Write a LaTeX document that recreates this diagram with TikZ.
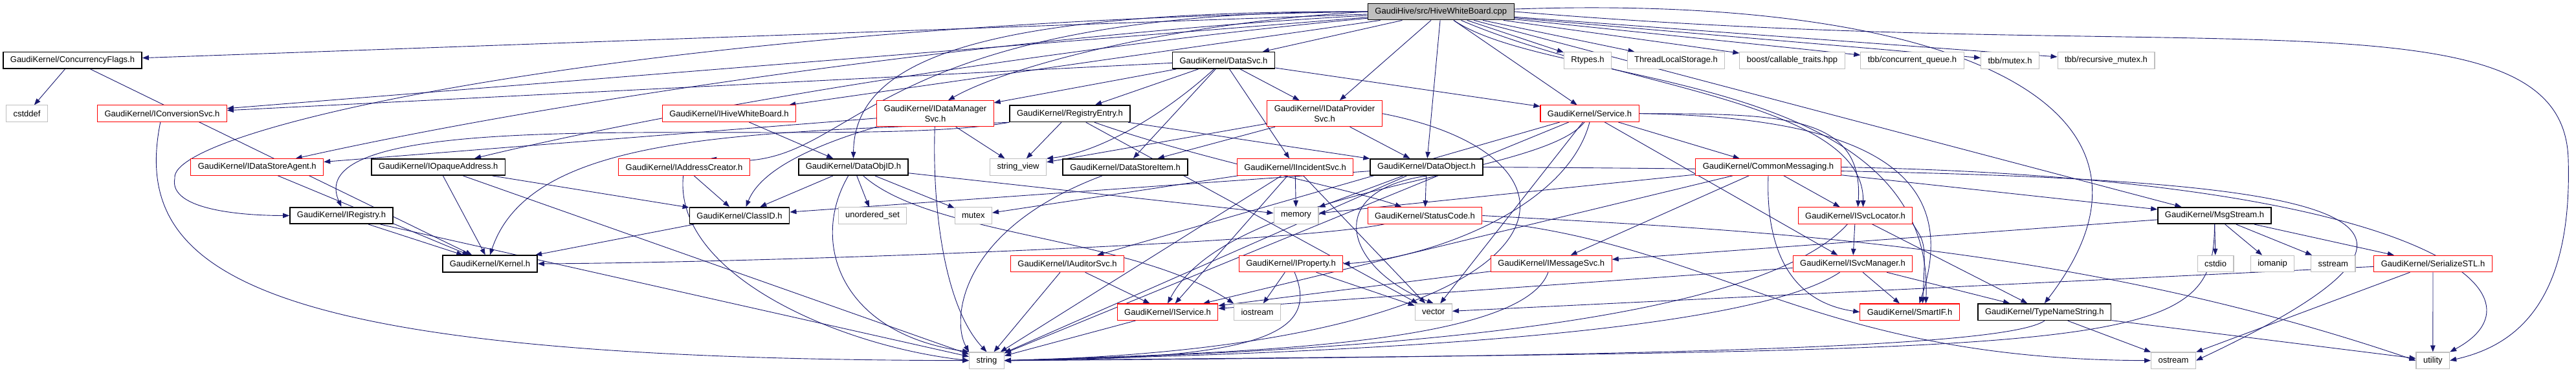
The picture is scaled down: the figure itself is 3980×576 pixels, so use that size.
\documentclass[tikz,border=0pt]{standalone}
\usepackage{fontspec}
\setmainfont{Liberation Sans}
\usetikzlibrary{arrows.meta,backgrounds}
\definecolor{edgeblue}{HTML}{191970}
\definecolor{boxgray}{HTML}{BFBFBF}
\begin{document}
\begin{tikzpicture}[x=1pt, y=1pt,
    every node/.style={rectangle, draw, fill=white, line width=1.1pt, inner xsep=11pt, inner ysep=0pt,
      minimum height=25.5pt, align=center, font=\fontsize{13}{15.5}\selectfont},
    hdr/.style={draw=black, line width=1.6pt},
    trunc/.style={draw=red},
    sys/.style={draw=boxgray},
    rootbox/.style={draw=black, fill=boxgray, line width=1.4pt},
    twoline/.style={minimum height=40pt},
    dep/.style={draw=edgeblue, line width=0.9pt, -{Triangle[length=10pt,width=7.5pt]}}
    ]
    \useasboundingbox (0,0) rectangle (3980,576);
    % top row
    \node[rootbox] (root) at (2226.3,558) {GaudiHive/src/HiveWhiteBoard.cpp};
    \node[hdr] (concFlags) at (112,482.6) {GaudiKernel/ConcurrencyFlags.h};
    \node[hdr] (dataSvc) at (1890.5,482.6) {GaudiKernel/DataSvc.h};
    \node[sys] (rtypes) at (2453,482.6) {Rtypes.h};
    \node[sys] (tls) at (2589.5,482.6) {ThreadLocalStorage.h};
    \node[sys] (callable) at (2769,482.6) {boost/callable\_traits.hpp};
    \node[sys] (tbbQueue) at (2954.5,482.6) {tbb/concurrent\_queue.h};
    \node[sys] (tbbMutex) at (3105.5,482.6) {tbb/mutex.h};
    \node[sys] (tbbRecMutex) at (3254,482.6) {tbb/recursive\_mutex.h};
    % second row
    \node[sys] (cstddef) at (41.5,400.3) {cstddef};
    \node[trunc] (iConvSvc) at (250.5,400.3) {GaudiKernel/IConversionSvc.h};
    \node[trunc] (iHiveWB) at (1126.5,400.3) {GaudiKernel/IHiveWhiteBoard.h};
    \node[trunc, twoline] (iDataMgrSvc) at (1445,400.3) {GaudiKernel/IDataManager\\Svc.h};
    \node[hdr] (regEntry) at (1653,400.3) {GaudiKernel/RegistryEntry.h};
    \node[trunc, twoline] (iDataProvSvc) at (2046.5,400.3) {GaudiKernel/IDataProvider\\Svc.h};
    \node[trunc] (service) at (2456,400.3) {GaudiKernel/Service.h};
    % third row
    \node[trunc] (iDataStoreAgent) at (397.3,317.5) {GaudiKernel/IDataStoreAgent.h};
    \node[hdr] (iOpaqueAddr) at (677.3,317.5) {GaudiKernel/IOpaqueAddress.h};
    \node[trunc] (iAddrCreator) at (1057,317.5) {GaudiKernel/IAddressCreator.h};
    \node[hdr] (dataObjID) at (1318.5,317.5) {GaudiKernel/DataObjID.h};
    \node[sys] (stringView) at (1573,317.5) {string\_view};
    \node[hdr] (dataStoreItem) at (1738.5,317.5) {GaudiKernel/DataStoreItem.h};
    \node[trunc] (iIncidentSvc) at (2001,317.5) {GaudiKernel/IIncidentSvc.h};
    \node[hdr] (dataObject) at (2204,317.5) {GaudiKernel/DataObject.h};
    \node[trunc] (commonMsg) at (2732,317.5) {GaudiKernel/CommonMessaging.h};
    % fourth row
    \node[hdr] (iRegistry) at (527.5,242.5) {GaudiKernel/IRegistry.h};
    \node[hdr] (classID) at (1142.5,242.5) {GaudiKernel/ClassID.h};
    \node[sys] (unorderedSet) at (1348,242.5) {unordered\_set};
    \node[sys] (mutex) at (1503.8,242.5) {mutex};
    \node[sys] (memory) at (2002.5,242.5) {memory};
    \node[trunc] (statusCode) at (2201.5,242.5) {GaudiKernel/StatusCode.h};
    \node[trunc] (iSvcLocator) at (2866.5,242.5) {GaudiKernel/ISvcLocator.h};
    \node[hdr] (msgStream) at (3421.5,242.5) {GaudiKernel/MsgStream.h};
    % fifth row
    \node[hdr] (kernel) at (757,168) {GaudiKernel/Kernel.h};
    \node[trunc] (iAuditorSvc) at (1649,168) {GaudiKernel/IAuditorSvc.h};
    \node[trunc] (iProperty) at (1994.5,168) {GaudiKernel/IProperty.h};
    \node[trunc] (iMessageSvc) at (2396.8,168) {GaudiKernel/IMessageSvc.h};
    \node[trunc] (iSvcManager) at (2862.5,168) {GaudiKernel/ISvcManager.h};
    \node[sys] (cstdio) at (3423,168) {cstdio};
    \node[sys] (iomanip) at (3511,168) {iomanip};
    \node[sys] (sstream) at (3604.8,168) {sstream};
    \node[trunc] (serializeSTL) at (3759,168) {GaudiKernel/SerializeSTL.h};
    % sixth row
    \node[trunc] (iService) at (1804,93.3) {GaudiKernel/IService.h};
    \node[sys] (iostream) at (1942.5,93.3) {iostream};
    \node[sys] (vector) at (2214.8,93.3) {vector};
    \node[trunc] (smartIF) at (2950.5,93.3) {GaudiKernel/SmartIF.h};
    \node[hdr] (typeNameString) at (3158.8,93.3) {GaudiKernel/TypeNameString.h};
    % bottom row
    \node[sys] (string) at (1524.5,18.3) {string};
    \node[sys] (ostream) at (3358,18.3) {ostream};
    \node[sys] (utility) at (3758.8,18.3) {utility};
    \coordinate (rootLoop) at (3968,330);
    \coordinate (regBend) at (270,300);

    \begin{pgfonlayer}{background}
    \foreach \a/\b in {root/concFlags, root/iConvSvc, root/iHiveWB, root/dataSvc, root/iDataProvSvc,
        root/dataObject, root/service, root/rtypes, root/tls, root/callable, root/tbbQueue,
        root/tbbMutex, root/tbbRecMutex, root/msgStream,
        concFlags/cstddef, concFlags/kernel,
        dataSvc/iConvSvc, dataSvc/iDataMgrSvc, dataSvc/regEntry, dataSvc/dataStoreItem,
        dataSvc/iIncidentSvc, dataSvc/iDataProvSvc, dataSvc/service,
        iHiveWB/dataObjID, iDataMgrSvc/iDataStoreAgent, iDataMgrSvc/stringView,
        regEntry/stringView, regEntry/dataObject, regEntry/vector,
        iDataProvSvc/stringView, iDataProvSvc/dataStoreItem, iDataProvSvc/dataObject,
        service/commonMsg, service/iSvcManager, service/vector, service/string, service/iAuditorSvc,
        iDataStoreAgent/kernel, iOpaqueAddr/kernel, iOpaqueAddr/string, iOpaqueAddr/classID,
        iAddrCreator/classID,
        dataObjID/classID, dataObjID/unorderedSet, dataObjID/mutex, dataObjID/memory,
        iIncidentSvc/memory, iIncidentSvc/vector, iIncidentSvc/string, iIncidentSvc/iService,
        iIncidentSvc/mutex,
        dataObject/classID, dataObject/statusCode, dataObject/memory, dataObject/string,
        commonMsg/iSvcLocator, commonMsg/msgStream, commonMsg/iMessageSvc, commonMsg/memory,
        commonMsg/iService,
        iRegistry/kernel, iRegistry/string, classID/kernel,
        iSvcLocator/iSvcManager, iSvcLocator/typeNameString,
        msgStream/cstdio, msgStream/iomanip, msgStream/sstream, msgStream/serializeSTL,
        msgStream/iMessageSvc,
        iAuditorSvc/iService, iAuditorSvc/string, iProperty/iostream, iProperty/vector,
        iMessageSvc/iService, iSvcManager/typeNameString, iSvcManager/iService, iSvcManager/smartIF,
        serializeSTL/ostream, serializeSTL/utility, serializeSTL/vector,
        typeNameString/ostream, typeNameString/utility, iService/string}
      \draw[dep] (\a) -- (\b);

    % routed around the boxes
    \draw[dep] (root) .. controls (2500,440) and (2880,420) .. ([xshift=12pt]iSvcLocator.north);
    \draw[dep] (root) .. controls (2400,440) and (2990,470) .. ([xshift=25pt]smartIF.north);
    \draw[dep] (root) .. controls (3000,585) and (3400,420) .. (typeNameString.north);
    \draw[dep] (root.east) .. controls (3400,470) and (3960,600) .. (rootLoop)
      .. controls (3975,100) and (3880,40) .. (utility.east);
    \draw[dep] (root.west) .. controls (1800,540) and (1550,470) .. ([xshift=20pt]iDataMgrSvc.north);
    \draw[dep] (root.west) .. controls (1500,560) and (1320,480) .. (dataObjID.north);
    \draw[dep] (root.west) .. controls (1300,560) and (1330,300) .. ([xshift=40pt]iAddrCreator.north);
    \draw[dep] (root) .. controls (1700,510) and (1100,420) .. (iOpaqueAddr);
    \draw[dep] (root) .. controls (1600,525) and (900,430) .. (iDataStoreAgent);
    \draw[dep] (root.west) .. controls (1000,540) and (260,380) .. (regBend)
      .. controls (260,250) and (380,242.5) .. (iRegistry.west);
    \draw[dep] (service.east) .. controls (2750,400) and (2880,400) .. ([xshift=4pt]iSvcLocator.north);
    \draw[dep] (service.east) .. controls (2900,395) and (3030,300) .. ([xshift=15pt]smartIF.north);
    \draw[dep] (service.south) .. controls (2420,250) and (2200,175) .. (iProperty.east);
    \draw[dep] ([xshift=-8pt]service.south) .. controls (2380,300) and (1900,290) .. (iService.north);
    \draw[dep] (regEntry.south west) .. controls (1300,340) and (450,430) .. (iRegistry.north);
    \draw[dep] (regEntry.south west) .. controls (1150,370) and (820,370) .. (kernel.north);
    \draw[dep] (regEntry) .. controls (1850,330) and (2100,280) .. (statusCode);
    \draw[dep] (iDataProvSvc.east) .. controls (2500,330) and (2450,40) .. (string.east);
    \draw[dep] (iDataMgrSvc.south west) .. controls (1220,340) and (1170,300) .. ([xshift=10pt]classID.north);
    \draw[dep] (iDataMgrSvc) .. controls (1440,250) and (1460,100) .. (string.north);
    \draw[dep] (dataSvc) .. controls (1800,400) and (1700,340) .. (stringView.north east);
    \draw[dep] (dataObjID) .. controls (1250,200) and (1300,60) .. (string.north west);
    \draw[dep] (dataObjID) .. controls (1440,210) and (1750,210) .. (iostream.north west);
    \draw[dep] (iAddrCreator) .. controls (1040,150) and (1300,40) .. (string.west);
    \draw[dep] (iConvSvc) .. controls (200,150) and (400,20) .. (string.west);
    \draw[dep] (dataStoreItem) .. controls (1480,220) and (1470,80) .. (string.north west);
    \draw[dep] (dataObject.south) .. controls (2040,280) and (2080,160) .. (vector.north);
    \draw[dep] (dataObject.east) .. controls (3500,310) and (3970,290) .. (ostream.east);
    \draw[dep] (commonMsg.south) .. controls (2728,200) and (2760,110) .. (smartIF.west);
    \draw[dep] (commonMsg.east) .. controls (3750,300) and (3950,120) .. (utility.north east);
    \draw[dep] (statusCode) .. controls (2000,200) and (1200,170) .. (kernel.east);
    \draw[dep] (statusCode) .. controls (2650,200) and (2800,20) .. (ostream.west);
    \draw[dep] (statusCode.east) .. controls (2700,220) and (3200,200) .. (utility.west);
    \draw[dep] (iSvcLocator.south east) .. controls (2975,200) .. ([xshift=20pt]smartIF.north);
    \draw[dep] (iSvcLocator) .. controls (2700,60) and (2000,30) .. (string.east);
    \draw[dep] (msgStream.south) .. controls (3421,30) and (3300,35) .. (string.east);
    \draw[dep] (iProperty) .. controls (2040,60) and (1950,20) .. (string.east);
    \draw[dep] (iMessageSvc) .. controls (2350,40) and (1900,30) .. (string.east);
    \draw[dep] (iSvcManager) .. controls (2700,60) and (2100,30) .. (string.east);
    \draw[dep] (typeNameString.south) .. controls (3100,40) and (2600,25) .. (string.east);
    \end{pgfonlayer}
\end{tikzpicture}
\end{document}
